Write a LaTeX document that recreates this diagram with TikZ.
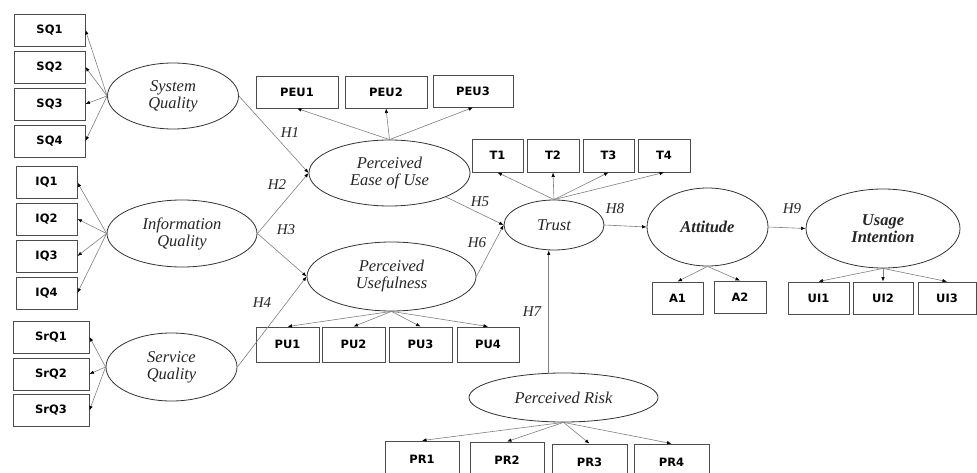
\documentclass[tikz,border=0pt]{standalone}
\usepackage{fontspec}
\setmainfont{Liberation Serif}
\newfontfamily\boxfont{DejaVu Sans}
\usetikzlibrary{shapes.geometric,arrows.meta}
\begin{document}
\begin{tikzpicture}[x=1pt,y=-1pt,
  ibox/.style={draw=black!70,line width=0.9pt,inner sep=0pt,font=\boxfont\bfseries\fontsize{11.5}{13}\selectfont,minimum height=32pt},
  lat/.style={ellipse,draw=black!80,line width=0.8pt,inner sep=0pt,align=center,text=black!85,font=\fontsize{16.5}{17}\selectfont\itshape},
  latb/.style={lat,font=\fontsize{16.5}{17}\selectfont\bfseries\itshape},
  arr/.style={draw=black!50,line width=0.6pt,-{Latex[length=4.5pt,width=3.5pt,color=black]}},
  hyp/.style={font=\fontsize{15}{15}\selectfont\itshape,text=black!85}]
\useasboundingbox (0,0) rectangle (977,473);
\fill[white] (0,0) rectangle (977,473);

% indicator boxes
\node[ibox,minimum width=71pt] (SQ1) at (49.5,30) {SQ1};
\node[ibox,minimum width=71pt] (SQ2) at (49.5,67) {SQ2};
\node[ibox,minimum width=71pt] (SQ3) at (49.5,104) {SQ3};
\node[ibox,minimum width=71pt] (SQ4) at (49.5,141) {SQ4};
\node[ibox,minimum width=61pt] (IQ1) at (46.5,182.5) {IQ1};
\node[ibox,minimum width=61pt] (IQ2) at (46.5,219) {IQ2};
\node[ibox,minimum width=61pt] (IQ3) at (46.5,256) {IQ3};
\node[ibox,minimum width=61pt] (IQ4) at (46.5,293) {IQ4};
\node[ibox,minimum width=76pt] (SrQ1) at (51,337) {SrQ1};
\node[ibox,minimum width=76pt] (SrQ2) at (51,374) {SrQ2};
\node[ibox,minimum width=76pt] (SrQ3) at (51,410.5) {SrQ3};
\node[ibox,minimum width=82pt] (PEU1) at (297,92) {PEU1};
\node[ibox,minimum width=82pt] (PEU2) at (386,92) {PEU2};
\node[ibox,minimum width=80pt] (PEU3) at (473,91) {PEU3};
\node[ibox,minimum width=51pt,minimum height=33pt] (T1) at (497.5,155.5) {T1};
\node[ibox,minimum width=52pt,minimum height=33pt] (T2) at (553,155.5) {T2};
\node[ibox,minimum width=51pt,minimum height=33pt] (T3) at (608.5,155.5) {T3};
\node[ibox,minimum width=52pt,minimum height=33pt] (T4) at (664,155.5) {T4};
\node[ibox,minimum width=63pt,minimum height=35pt] (PU1) at (287.5,344.5) {PU1};
\node[ibox,minimum width=63pt,minimum height=35pt] (PU2) at (353.5,344.5) {PU2};
\node[ibox,minimum width=63pt,minimum height=35pt] (PU3) at (420.5,344.5) {PU3};
\node[ibox,minimum width=62pt,minimum height=35pt] (PU4) at (488,344.5) {PU4};
\node[ibox,minimum width=51pt] (A1) at (677.5,298) {A1};
\node[ibox,minimum width=52pt] (A2) at (740,297) {A2};
\node[ibox,minimum width=61pt] (UI1) at (818.5,298) {UI1};
\node[ibox,minimum width=60pt] (UI2) at (883,298) {UI2};
\node[ibox,minimum width=58pt] (UI3) at (947,298) {UI3};
\node[ibox,minimum width=74pt,minimum height=36pt] (PR1) at (422,459) {PR1};
\node[ibox,minimum width=74pt,minimum height=36pt] (PR2) at (507,460) {PR2};
\node[ibox,minimum width=75pt,minimum height=36pt] (PR3) at (589.5,462) {PR3};
\node[ibox,minimum width=75pt,minimum height=36pt] (PR4) at (671.5,462) {PR4};

% latent constructs
\node[lat,minimum width=131pt,minimum height=66pt] (SysQ) at (173,96) {System\\Quality};
\node[lat,minimum width=150pt,minimum height=67pt] (InfQ) at (182,233.5) {Information\\Quality};
\node[lat,minimum width=131pt,minimum height=68pt] (SrvQ) at (171.5,367) {Service\\Quality};
\node[lat,minimum width=161pt,minimum height=66pt] (PEU) at (389.5,173) {Perceived\\Ease of Use};
\node[lat,minimum width=169pt,minimum height=69pt] (PU) at (391.5,276.5) {Perceived\\Usefulness};
\node[lat,minimum width=100pt,minimum height=50pt] (Tr) at (554,225) {Trust};
\node[latb,minimum width=121pt,minimum height=78pt] (Att) at (707.5,227) {Attitude};
\node[latb,minimum width=154pt,minimum height=79pt] (UI) at (883,228.5) {Usage\\Intention};
\node[lat,minimum width=189pt,minimum height=49pt] (PR) at (563.5,397.5) {Perceived Risk};

% measurement arrows
\foreach \b in {SQ1,SQ2,SQ3,SQ4} \draw[arr] (SysQ.west) -- (\b.east);
\foreach \b in {IQ1,IQ2,IQ3,IQ4} \draw[arr] (InfQ.west) -- (\b.east);
\foreach \b in {SrQ1,SrQ2,SrQ3} \draw[arr] (SrvQ.west) -- (\b.east);
\foreach \b in {PEU1,PEU2,PEU3} \draw[arr] (PEU.north) -- (\b.south);
\foreach \b in {T1,T2,T3,T4} \draw[arr] (Tr.north) -- (\b.south);
\foreach \b in {PU1,PU2,PU3,PU4} \draw[arr] (PU.south) -- (\b.north);
\foreach \b in {A1,A2} \draw[arr] (Att.south) -- (\b.north);
\foreach \b in {UI1,UI2,UI3} \draw[arr] (UI.south) -- (\b.north);
\foreach \b in {PR1,PR2,PR3,PR4} \draw[arr] (PR.south) -- (\b.north);

% structural arrows
\draw[arr] (SysQ.east) -- (PEU.west);
\draw[arr] (InfQ.east) -- (PEU.west);
\draw[arr] (InfQ.east) -- (PU.west);
\draw[arr] (SrvQ.east) -- (PU.west);
\draw[arr] (PEU.-23) -- (Tr.west);
\draw[arr] (PU.east) -- (Tr.west);
\draw[arr] (PR.121) -- (PR.121 |- Tr.south);
\draw[arr] (Tr.east) -- (Att.west);
\draw[arr] (Att.east) -- (UI.west);

% hypothesis labels
\node[hyp] (h1) at (290,133) {H1};
\node[hyp] (h2) at (277,185) {H2};
\node[hyp] (h3) at (286,230) {H3};
\node[hyp] (h4) at (262,303) {H4};
\node[hyp] (h5) at (480,202) {H5};
\node[hyp] (h6) at (477,243) {H6};
\node[hyp] (h7) at (532,312) {H7};
\node[hyp] (h8) at (615,209) {H8};
\node[hyp] (h9) at (792,209) {H9};
\end{tikzpicture}
\end{document}
